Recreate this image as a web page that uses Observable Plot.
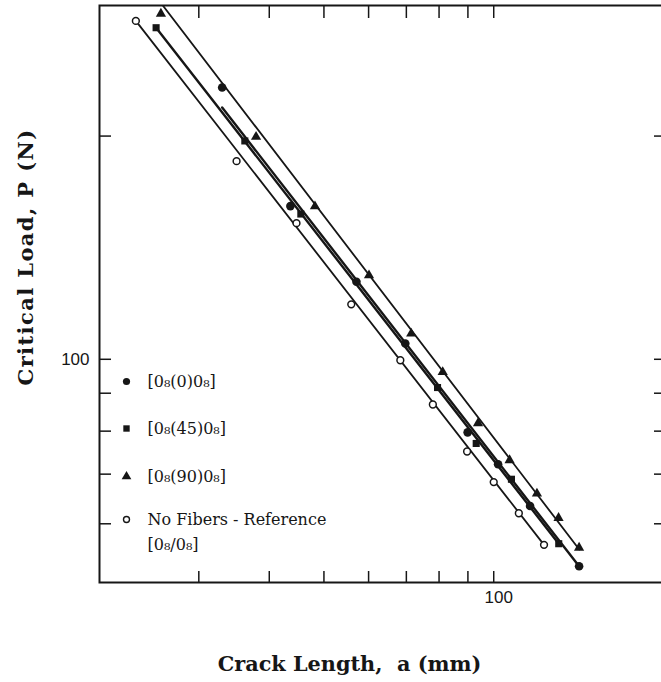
<!DOCTYPE html>
<html><head><meta charset="utf-8">
<script src="https://cdn.jsdelivr.net/npm/d3@7"></script>
<script src="https://cdn.jsdelivr.net/npm/@observablehq/plot@0.6"></script>
<style>
body{margin:0;background:#fff;}
#chart{width:661px;height:682px;overflow:hidden;}
</style></head><body><div id="chart"></div>
<script>
// ---- data (crack length a in mm, critical load P in N) ----
const seriesNames = ["[0\u2088(0)0\u2088]", "[0\u2088(45)0\u2088]", "[0\u2088(90)0\u2088]", "No Fibers - Reference"];
const refSecondLine = "[0\u2088/0\u2088]";

const fiber0A = [33.0, 43.6, 57.1, 69.7, 89.9, 101.8, 116.0, 141.7];
const fiber0P = [232.6, 160.9, 127.2, 105.0, 79.7, 72.2, 63.4, 52.6];
const fiber45A = [25.2, 36.2, 45.5, 79.5, 93.1, 107.5, 130.4];
const fiber45P = [280, 197.0, 157.0, 91.6, 77.0, 68.9, 56.4];
const fiber90A = [25.7, 37.9, 48.2, 60.1, 71.4, 81.2, 93.8, 106.7, 119.3, 130.3, 141.7];
const fiber90P = [292.4, 199.5, 160.8, 129.8, 108.3, 96.1, 82.0, 73.1, 65.9, 61.1, 55.7];
const refA = [23.2, 35.0, 44.7, 55.9, 68.3, 78.0, 89.7, 100, 110.8, 122.8];
const refP = [286, 185, 152.6, 118.6, 99.7, 86.9, 75.1, 68.3, 62.0, 56.2];

// fitted straight lines (end points)
const fit0A = [33.0, 141.7],   fit0P = [218.6, 52.6];
const fit45A = [25.2, 130.4],  fit45P = [280, 56.4];
const fit90A = [25.9, 141.8],  fit90P = [300, 55.4];
const fitRefA = [23.2, 122.8], fitRefP = [286, 56.2];

const xTicks = [30, 40, 50, 60, 70, 80, 90, 100];
const xLabelTicks = [100];
const yTicks = [60, 70, 80, 90, 100, 200];
const yLabelTicks = [100];
const xTitle = "Crack Length,  a (mm)";
const yTitle = "Critical Load, P (N)";

const pts = (A, P) => A.map((a, i) => ({a, p: P[i]}));

const ink = "#161616";
const serif = "'DejaVu Serif', serif";
const symbols = ["circle", "square", "triangle", "circle"];
const fills = [ink, ink, ink, "white"];

const legendDy = [376, 423, 471, 514];
const legendMarks = [];
seriesNames.forEach((name, i) => {
  legendMarks.push(Plot.dot([0], {frameAnchor: "top-left", dx: 27, dy: legendDy[i], symbol: symbols[i],
    r: i === 3 ? 3 : 3.6, fill: fills[i], stroke: ink, strokeWidth: i === 3 ? 1.4 : 0}));
  legendMarks.push(Plot.text([name], {text: d => d, frameAnchor: "top-left", dx: 48, dy: legendDy[i],
    textAnchor: "start", lineAnchor: "middle", fontFamily: serif, fontSize: 16, fill: ink}));
});
legendMarks.push(Plot.text([refSecondLine], {text: d => d, frameAnchor: "top-left", dx: 48, dy: 539,
  textAnchor: "start", lineAnchor: "middle", fontFamily: serif, fontSize: 16, fill: ink}));

const chart = Plot.plot({
  width: 661, height: 682,
  marginLeft: 99, marginRight: -2, marginTop: 5, marginBottom: 100,
  style: {fontFamily: "'Liberation Sans', sans-serif", background: "white", color: ink},
  x: {type: "log", domain: [20, 200]},
  y: {type: "log", domain: [50, 300]},
  marks: [
    Plot.axisX(xTicks, {anchor: "bottom", tickSize: -11, tickFormat: () => "", label: null, stroke: ink, strokeWidth: 1.5}),
    Plot.axisX(xTicks, {anchor: "top", tickSize: -12, tickFormat: () => "", label: null, stroke: ink, strokeWidth: 1.5}),
    Plot.axisX(xLabelTicks, {anchor: "bottom", tickSize: 0, tickPadding: 8, dx: 5, tickFormat: d => String(d), label: null, fontSize: 17, fill: ink}),
    Plot.axisY(yTicks, {anchor: "left", tickSize: -12, tickFormat: () => "", label: null, stroke: ink, strokeWidth: 1.5}),
    Plot.axisY(yTicks, {anchor: "right", tickSize: -10, tickFormat: () => "", label: null, stroke: ink, strokeWidth: 1.5}),
    Plot.axisY(yLabelTicks, {anchor: "left", tickSize: 0, tickPadding: 10, tickFormat: d => String(d), label: null, fontSize: 17, fill: ink}),
    Plot.frame({stroke: ink, strokeWidth: 2}),
    Plot.line(pts(fitRefA, fitRefP), {x: "a", y: "p", stroke: ink, strokeWidth: 1.8, clip: true}),
    Plot.line(pts(fit45A, fit45P), {x: "a", y: "p", stroke: ink, strokeWidth: 2.4, clip: true}),
    Plot.line(pts(fit0A, fit0P), {x: "a", y: "p", stroke: ink, strokeWidth: 2.4, clip: true}),
    Plot.line(pts(fit90A, fit90P), {x: "a", y: "p", stroke: ink, strokeWidth: 1.8, clip: true}),
    Plot.dot(pts(refA, refP), {x: "a", y: "p", symbol: "circle", r: 3.4, fill: "white", stroke: ink, strokeWidth: 1.5}),
    Plot.dot(pts(fiber0A, fiber0P), {x: "a", y: "p", symbol: "circle", r: 4.3, fill: ink}),
    Plot.dot(pts(fiber45A, fiber45P), {x: "a", y: "p", symbol: "square", r: 4, fill: ink}),
    Plot.dot(pts(fiber90A, fiber90P), {x: "a", y: "p", symbol: "triangle", r: 3.8, fill: ink}),
    ...legendMarks,
    Plot.text([xTitle], {text: d => d, frameAnchor: "bottom", dx: -32, dy: 82, lineAnchor: "middle", textAnchor: "middle",
      fontFamily: serif, fontWeight: "bold", fontSize: 20.8, fill: ink}),
    Plot.text([yTitle], {text: d => d, frameAnchor: "left", dx: -73, dy: -37, rotate: -90, lineAnchor: "middle", textAnchor: "middle",
      fontFamily: serif, fontWeight: "bold", fontSize: 21, fill: ink})
  ]
});
d3.select(chart).selectAll("text").filter(function() { return this.textContent === yTitle; })
  .attr("letter-spacing", "1.4px");
document.getElementById("chart").appendChild(chart);
</script>
</body></html>
